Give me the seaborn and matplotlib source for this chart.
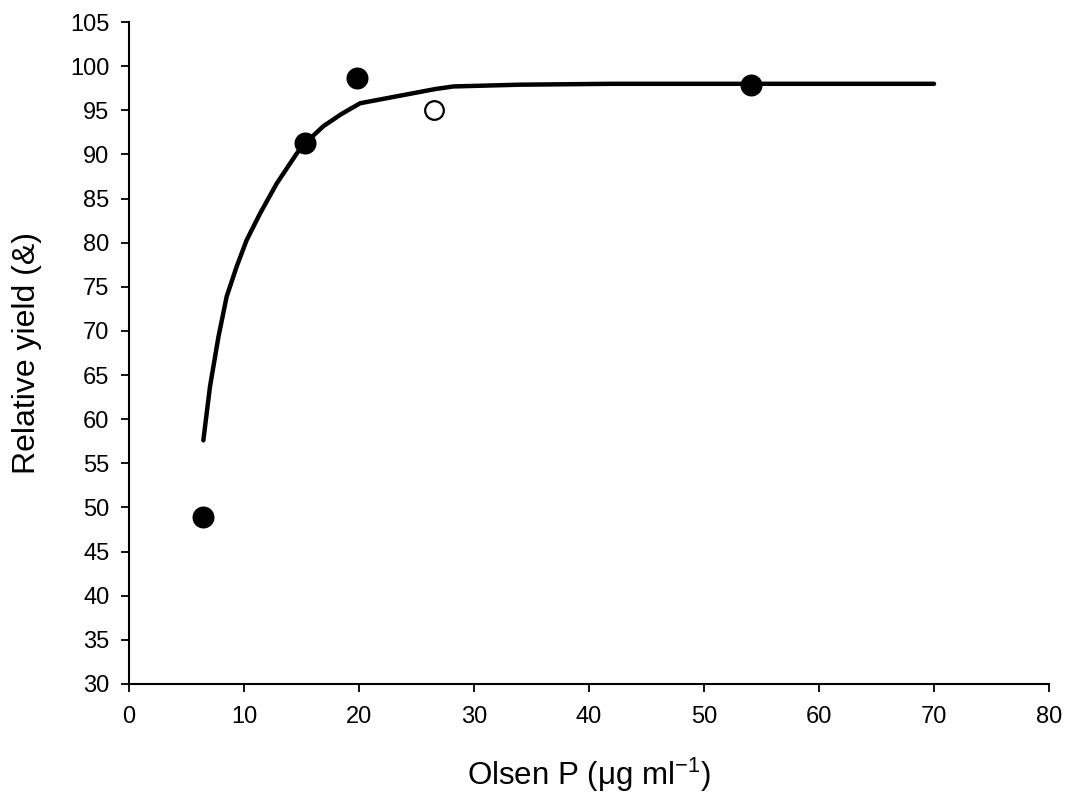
import numpy as np
import pandas as pd
import matplotlib
matplotlib.use('Agg')
import matplotlib.pyplot as plt
import seaborn as sns

# observed points (filled = included, open = outlier)
obs_x = [6.4, 15.3, 19.8, 54.1]
obs_y = [48.9, 91.3, 98.7, 97.9]
open_x = [26.5]
open_y = [95.0]

# fitted response curve
fit_x = [6.46, 7.04, 7.77, 8.49, 9.36, 10.23, 11.39, 12.84, 14.58, 15.3, 16.9,
         18.5, 20.1, 26.6, 28.2, 34.0, 42.0, 70.0]
fit_y = [57.6, 63.7, 69.3, 73.9, 77.3, 80.3, 83.3, 86.7, 90.1, 91.25, 93.2,
         94.6, 95.8, 97.4, 97.7, 97.9, 98.0, 98.0]

sns.set_style('ticks')
plt.rcParams['font.family'] = ['Liberation Sans', 'DejaVu Sans']
plt.rcParams['mathtext.fontset'] = 'custom'
plt.rcParams['mathtext.rm'] = 'Liberation Sans'
plt.rcParams['mathtext.it'] = 'Liberation Sans'
plt.rcParams['text.color'] = 'black'
plt.rcParams['axes.labelcolor'] = 'black'

fig = plt.figure(figsize=(10.7, 7.98), dpi=100)
ax = fig.add_axes([0.1206, 0.1429, 0.8598, 0.8295])

fit = pd.DataFrame({'x': fit_x, 'y': fit_y})
sns.lineplot(data=fit, x='x', y='y', ax=ax, color='black', linewidth=3.2, sort=False)
sns.scatterplot(x=obs_x, y=obs_y, ax=ax, color='black', s=215, edgecolor='black', zorder=3)
sns.scatterplot(x=open_x, y=open_y, ax=ax, color='white', s=180, edgecolor='black',
                linewidth=1.6, zorder=3)

ax.set_xlim(0, 80)
ax.set_ylim(30, 105)
ax.set_xticks(np.arange(0, 81, 10))
ax.set_yticks(np.arange(30, 106, 5))
ax.tick_params(direction='out', length=6, width=1.3, labelsize=17, colors='black')
ax.tick_params(axis='y', pad=8)
ax.tick_params(axis='x', pad=10)
for side in ['left', 'bottom']:
    ax.spines[side].set_linewidth(1.5)
    ax.spines[side].set_color('black')
sns.despine(ax=ax)

ax.set_xlabel('Olsen P (μg ml$^{-1}$)', fontsize=22.5, labelpad=20)
ax.set_ylabel('Relative yield (&)', fontsize=23, labelpad=20)

fig.savefig('out.png', dpi=100)
